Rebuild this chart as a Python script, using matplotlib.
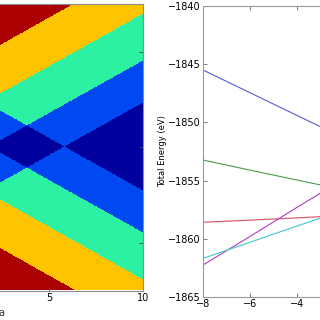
import numpy as np
import matplotlib
matplotlib.use('Agg')
import matplotlib.pyplot as plt
from matplotlib.colors import ListedColormap, BoundaryNorm

# left panel: region map, bands along |y| - s*x, with a crossing family |y| + s*x
band_slope = 0.55
band_edges = [-3.2, -1.0, 1.45, 4.0]   # blue/darkblue, green/blue, yellow/green, red/yellow
cross_edge = 3.2
region_colors = ['#00009c', '#0048f2', '#2cf0a2', '#ffc400', '#aa0000']

# right panel: total energy lines
x_vals = [-8, -6, -4, -2]
e_blue = [-1845.5, -1847.45, -1849.4, -1851.35]
e_green = [-1853.23, -1854.1, -1854.95, -1855.8]
e_red = [-1858.58, -1858.4, -1858.2, -1858.0]
e_magenta = [-1862.25, -1859.8, -1857.3, -1854.85]
e_cyan = [-1861.68, -1860.3, -1858.9, -1857.55]

fig = plt.figure(figsize=(3.2, 3.2), dpi=100)

# left map
ax1 = fig.add_axes([-45 / 320, 1 - 290.5 / 320, 188 / 320, 286.5 / 320])
xx, yy = np.meshgrid(np.linspace(0, 10, 700), np.linspace(-7.5, 7.5, 700))
p = np.abs(yy) - band_slope * xx
n = np.abs(yy) + band_slope * xx
level = np.digitize(p, band_edges)
level = level - ((n <= cross_edge) & (level > 0))
cmap = ListedColormap(region_colors)
norm = BoundaryNorm(np.arange(-0.5, 5.5, 1), cmap.N)
ax1.imshow(level, extent=[0, 10, -7.5, 7.5], origin='lower', aspect='auto',
           cmap=cmap, norm=norm, interpolation='nearest')
ax1.set_xlim(0, 10)
ax1.set_ylim(-7.5, 7.5)
ax1.set_xticks([0, 5, 10])
ax1.set_yticks([-5, 0, 5])
ax1.tick_params(direction='in', top=True, right=True, labelsize=7, pad=2,
                length=3, width=0.6, color='0.3')
for s in ax1.spines.values():
    s.set_color('0.55')
    s.set_linewidth(0.8)
fig.text(4 / 320, 1 - 316 / 320, 'a', fontsize=7, ha='right', color='0.2')

# right lines
ax2 = fig.add_axes([203 / 320, 1 - 297 / 320, 188 / 320, 291 / 320])
lw = 0.8
ax2.plot(x_vals, e_blue, color='#5a5ad2', lw=lw)
ax2.plot(x_vals, e_green, color='#4a9a4a', lw=lw)
ax2.plot(x_vals, e_red, color='#d85060', lw=lw)
ax2.plot(x_vals, e_magenta, color='#b03cc0', lw=lw)
ax2.plot(x_vals, e_cyan, color='#40c8c8', lw=lw)
ax2.set_xlim(-8, 0)
ax2.set_ylim(-1865, -1840)
ax2.set_xticks([-8, -6, -4, -2, 0])
ax2.set_yticks([-1865, -1860, -1855, -1850, -1845, -1840])
ax2.tick_params(direction='in', top=True, right=True, labelsize=7, pad=1.5,
                length=3, width=0.6, color='0.4')
ax2.set_ylabel('Total Energy (eV)', fontsize=6, labelpad=1)
for s in ax2.spines.values():
    s.set_color('0.6')
    s.set_linewidth(0.8)

fig.savefig('out.png', dpi=100)
